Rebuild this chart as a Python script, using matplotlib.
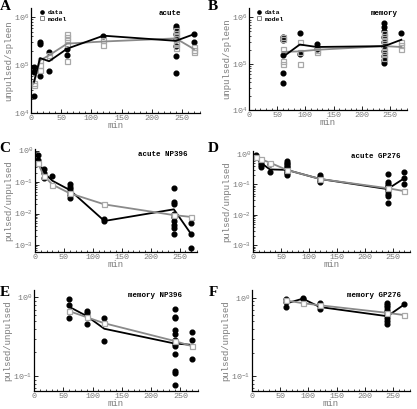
import matplotlib
matplotlib.use("Agg")
import matplotlib.pyplot as plt
from matplotlib.ticker import FixedLocator, FuncFormatter, LogLocator, NullFormatter, MultipleLocator
from matplotlib.lines import Line2D
import numpy as np

plt.rcParams['font.family'] = ['Liberation Mono', 'DejaVu Sans Mono']
plt.rcParams['mathtext.default'] = 'regular'

# ---------------- data ----------------
# Panel A: acute, unpulsed/spleen
A_data_x = [5, 5, 5, 15, 15, 15, 30, 30, 60, 60, 120, 240, 240, 240, 240, 240, 240, 240, 270, 270]
A_data_y = [9.1e4, 7.2e4, 2.3e4, 3.0e5, 2.8e5, 6.0e4, 1.9e5, 7.7e4, 1.6e5, 2.2e5, 4.1e5,
            6.6e5, 6.0e5, 4.5e5, 3.5e5, 2.5e5, 1.55e5, 6.8e4, 4.4e5, 3.1e5]
A_model_x = [5, 5, 15, 15, 15, 30, 30, 60, 60, 60, 60, 60, 120, 120,
             240, 240, 240, 240, 240, 240, 240, 270, 270, 270]
A_model_y = [4.2e4, 3.8e4, 1.25e5, 1.0e5, 8.0e4, 1.6e5, 1.45e5, 4.4e5, 3.9e5, 3.3e5, 2.8e5, 1.2e5, 2.6e5, 3.3e5,
             5.3e5, 4.7e5, 4.1e5, 3.6e5, 3.1e5, 2.7e5, 2.3e5, 2.4e5, 2.05e5, 1.85e5]
A_mean_x = [5, 15, 30, 60, 120, 240, 270]
A_data_mean = [4.5e4, 1.4e5, 1.2e5, 2.2e5, 4.1e5, 3.2e5, 4.4e5]
A_model_mean = [4.2e4, 1.25e5, 1.6e5, 2.8e5, 3.1e5, 3.6e5, 2.15e5]

# Panel B: memory, unpulsed/spleen
B_data_x = [60, 60, 60, 60, 60, 90, 90, 120, 120, 240, 240, 240, 240, 240, 240, 240, 240, 240, 240, 270]
B_data_y = [3.8e5, 3.3e5, 1.55e5, 6.3e4, 3.9e4, 4.6e5, 1.6e5, 2.7e5, 2.1e5,
            7.4e5, 6.3e5, 5.0e5, 3.8e5, 3.0e5, 2.4e5, 1.9e5, 1.5e5, 1.2e5, 1.05e5, 4.5e5]
B_model_x = [60, 60, 60, 60, 60, 90, 90, 90, 120, 120,
             240, 240, 240, 240, 240, 240, 240, 240, 270, 270, 270]
B_model_y = [3.7e5, 3.4e5, 2.1e5, 1.17e5, 1.0e5, 3.0e5, 1.8e5, 1.0e5, 1.8e5, 2.0e5,
             4.5e5, 3.9e5, 3.3e5, 2.8e5, 2.3e5, 1.9e5, 1.6e5, 1.35e5, 3.0e5, 2.5e5, 2.1e5]
B_mean_x = [60, 90, 120, 240, 270]
B_data_mean = [1.4e5, 2.6e5, 2.3e5, 2.4e5, 3.3e5]
B_model_mean = [1.8e5, 1.85e5, 2.0e5, 2.4e5, 2.3e5]

# Panel C: acute NP396, pulsed/unpulsed
C_data_x = [5, 5, 15, 15, 15, 30, 60, 60, 60, 60, 60, 60, 120, 120,
            240, 240, 240, 240, 240, 240, 240, 240, 240, 270, 270, 270]
C_data_y = [0.73, 0.5, 0.26, 0.19, 0.13, 0.15, 0.085, 0.07, 0.06, 0.05, 0.04, 0.032, 0.0065, 0.0056,
            0.063, 0.024, 0.0196, 0.010, 0.0079, 0.0059, 0.0043, 0.0035, 0.0022, 0.0049, 0.0022, 0.00078]
C_mean_x = [5, 15, 30, 60, 120, 240, 270]
C_data_mean = [0.55, 0.2, 0.11, 0.056, 0.0058, 0.0136, 0.0022]
C_model_mean = [0.40, 0.16, 0.083, 0.044, 0.0195, 0.0089, 0.0078]

# Panel D: acute GP276, pulsed/unpulsed
D_data_x = [5, 5, 15, 15, 15, 15, 30, 30,
            60, 60, 60, 60, 60, 60, 60, 60, 60, 60,
            120, 120, 120, 120,
            240, 240, 240, 240, 240, 240, 240, 240, 240, 240,
            270, 270, 270]
D_data_y = [0.93, 0.81, 0.62, 0.5, 0.42, 0.36, 0.46, 0.26,
            0.6, 0.52, 0.46, 0.41, 0.36, 0.32, 0.29, 0.26, 0.23, 0.2,
            0.2, 0.17, 0.14, 0.12,
            0.22, 0.12, 0.1, 0.09, 0.08, 0.07, 0.06, 0.05, 0.04, 0.024,
            0.25, 0.16, 0.1]
D_mean_x = [5, 15, 30, 60, 120, 240, 270]
D_data_mean = [0.75, 0.5, 0.31, 0.3, 0.15, 0.07, 0.16]
D_model_mean = [0.82, 0.66, 0.52, 0.3, 0.15, 0.075, 0.06]

# Panel E: memory NP396, pulsed/unpulsed
E_data_x = [60, 60, 60, 90, 90, 90, 120, 120,
            240, 240, 240, 240, 240, 240, 240, 240, 240, 240, 240, 240, 270, 270, 270]
E_data_y = [0.96, 0.81, 0.54, 0.67, 0.64, 0.46, 0.55, 0.28,
            0.72, 0.57, 0.55, 0.39, 0.34, 0.29, 0.26, 0.24, 0.19, 0.116, 0.11, 0.078, 0.36, 0.29, 0.165]
E_mean_x = [60, 90, 120, 240, 270]
E_data_mean = [0.76, 0.58, 0.40, 0.26, 0.25]
E_model_mean = [0.67, 0.56, 0.47, 0.28, 0.24]

# Panel F: memory GP276, pulsed/unpulsed
F_data_x = [60, 60, 60, 90, 90, 120, 120, 120,
            240, 240, 240, 240, 240, 240, 240, 240, 240, 270]
F_data_y = [0.95, 0.88, 0.76, 1.0, 0.95, 0.85, 0.79, 0.72,
            0.85, 0.8, 0.75, 0.7, 0.65, 0.6, 0.55, 0.5, 0.46, 0.82]
F_mean_x = [60, 90, 120, 240, 270]
F_data_mean = [0.84, 0.97, 0.76, 0.58, 0.82]
F_model_mean = [0.92, 0.85, 0.8, 0.64, 0.6]

# ---------------- style ----------------
W, H = 417, 409
fig = plt.figure(figsize=(W / 100, H / 100), dpi=100)

GRAY_TXT = '#7a7a7a'
SQ = '#a8a8a8'
GLINE = '#8a8a8a'


def make_ax(l, t, r, b):
    return fig.add_axes([l / W, 1 - b / H, (r - l) / W, (b - t) / H])


def logfmt(v, pos):
    e = int(round(np.log10(v)))
    return r'$10^{%d}$' % e


def style(ax, ylim, yticks, ylabel, letter, lx, ly, title, tx):
    ax.set_yscale('log')
    ax.set_xlim(0, 280)
    ax.set_ylim(*ylim)
    for s in ['top', 'right']:
        ax.spines[s].set_visible(False)
    for s in ['left', 'bottom']:
        ax.spines[s].set_linewidth(0.9)
    ax.xaxis.set_major_locator(FixedLocator([0, 50, 100, 150, 200, 250]))
    ax.xaxis.set_minor_locator(MultipleLocator(10))
    ax.yaxis.set_major_locator(FixedLocator(yticks))
    ax.yaxis.set_major_formatter(FuncFormatter(logfmt))
    ax.yaxis.set_minor_locator(LogLocator(base=10, subs=np.arange(2, 10)))
    ax.yaxis.set_minor_formatter(NullFormatter())
    ax.tick_params(which='major', direction='in', length=3, width=0.6,
                   labelsize=6, labelcolor=GRAY_TXT, pad=1.5)
    ax.tick_params(which='minor', direction='in', length=1.5, width=0.5)
    ax.set_xlabel('min', fontsize=6.5, color=GRAY_TXT, labelpad=-0.5)
    ax.set_ylabel(ylabel, fontsize=6.5, color=GRAY_TXT, labelpad=0.5)
    ax.text(tx, 0.95, title, transform=ax.transAxes, ha='right', va='center',
            fontsize=5.4, fontweight='bold', color='black')
    fig.text(lx / W, 1 - ly / H, letter, fontsize=11, fontweight='bold',
             family='Liberation Serif', ha='center', va='center')


def draw_pop(ax, dx, dy, mx, my, mean_x, dmean, mmean):
    ax.plot(dx, dy, 'o', color='black', ms=3.4, zorder=2, clip_on=False)
    ax.plot(mx, my, 's', mfc='none', mec=SQ, mew=0.9, ms=3.6, zorder=3, clip_on=False)
    ax.plot(mean_x, mmean, '-', color=GLINE, lw=1.3, zorder=4)
    ax.plot(mean_x, dmean, '-', color='black', lw=1.3, zorder=5)


def draw_ratio(ax, dx, dy, mean_x, dmean, mmean):
    ax.plot(dx, dy, 'o', color='black', ms=3.4, zorder=2, clip_on=False)
    ax.plot(mean_x, dmean, '-', color='black', lw=1.3, zorder=4)
    ax.plot(mean_x, mmean, '-', color=GLINE, lw=1.3, marker='s', mfc='white',
            mec=SQ, mew=0.9, ms=3.6, zorder=5, clip_on=False)


def legend(ax):
    h = [Line2D([], [], ls='none', marker='o', color='black', ms=2.3),
         Line2D([], [], ls='none', marker='s', mfc='none', mec='#888888', mew=0.7, ms=2.6)]
    ax.legend(h, ['data', 'model'], loc='upper left', bbox_to_anchor=(0.03, 1.02),
              frameon=False, prop={'size': 4.6, 'weight': 'bold', 'family': 'Liberation Mono'},
              handlelength=0.6, handletextpad=0.6, labelspacing=0.15, borderaxespad=0.2)


axA = make_ax(31, 8, 200, 113)
draw_pop(axA, A_data_x, A_data_y, A_model_x, A_model_y, A_mean_x, A_data_mean, A_model_mean)
style(axA, (1e4, 1.55e6), [1e4, 1e5, 1e6], 'unpulsed/spleen', 'A', 5, 7, 'acute', 0.89)
legend(axA)

axB = make_ax(249, 8, 407, 110)
draw_pop(axB, B_data_x, B_data_y, B_model_x, B_model_y, B_mean_x, B_data_mean, B_model_mean)
style(axB, (1e4, 1.6e6), [1e4, 1e5, 1e6], 'unpulsed/spleen', 'B', 213, 7, 'memory', 0.94)
legend(axB)

axC = make_ax(35, 149, 197, 252)
draw_ratio(axC, C_data_x, C_data_y, C_mean_x, C_data_mean, C_model_mean)
style(axC, (6e-4, 1.12), [1e-3, 1e-2, 1e-1, 1], 'pulsed/unpulsed', 'C', 5, 148, 'acute NP396', 0.94)

axD = make_ax(253, 151, 410, 252)
draw_ratio(axD, D_data_x, D_data_y, D_mean_x, D_data_mean, D_model_mean)
style(axD, (6e-4, 1.25), [1e-3, 1e-2, 1e-1, 1], 'pulsed/unpulsed', 'D', 213, 148, 'acute GP276', 0.94)

axE = make_ax(34, 290, 198, 391)
draw_ratio(axE, E_data_x, E_data_y, E_mean_x, E_data_mean, E_model_mean)
style(axE, (0.065, 1.24), [0.1, 1], 'pulsed/unpulsed', 'E', 5, 293, 'memory NP396', 0.90)

axF = make_ax(252, 290, 410, 391)
draw_ratio(axF, F_data_x, F_data_y, F_mean_x, F_data_mean, F_model_mean)
style(axF, (0.065, 1.25), [0.1, 1], 'pulsed/unpulsed', 'F', 213, 293, 'memory GP276', 0.94)

fig.savefig('out.png', dpi=100)
